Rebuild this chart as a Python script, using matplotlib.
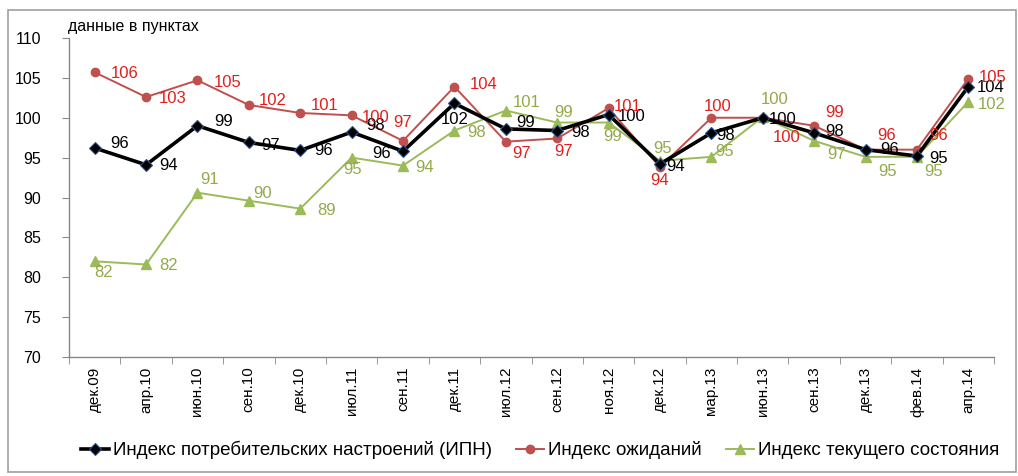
import matplotlib
matplotlib.use("Agg")
import matplotlib.pyplot as plt
from matplotlib.patches import Rectangle
import numpy as np

plt.rcParams['font.family'] = ['Liberation Sans', 'DejaVu Sans']

# ---- data ----
categories = ['дек.09', 'апр.10', 'июн.10', 'сен.10', 'дек.10', 'июл.11', 'сен.11',
              'дек.11', 'июл.12', 'сен.12', 'ноя.12', 'дек.12', 'мар.13', 'июн.13',
              'сен.13', 'дек.13', 'фев.14', 'апр.14']
ipn = [96.2, 94.1, 99.0, 96.9, 95.9, 98.2, 95.8, 101.8, 98.6, 98.4, 100.4, 94.2,
       98.1, 100.0, 98.1, 96.0, 95.2, 103.9]
expect = [105.7, 102.6, 104.7, 101.6, 100.6, 100.3, 97.1, 103.9, 97.0, 97.4, 101.2,
          93.8, 100.0, 100.0, 99.0, 96.0, 96.0, 104.9]
current = [82.0, 81.6, 90.6, 89.6, 88.6, 95.0, 94.0, 98.4, 100.9, 99.4, 99.4, 94.6,
           95.1, 100.1, 97.1, 95.1, 95.1, 102.0]
series_names = ['Индекс потребительских настроений (ИПН)', 'Индекс ожиданий',
                'Индекс текущего состояния']
yticks = [70, 75, 80, 85, 90, 95, 100, 105, 110]
unit_label = 'данные в пунктах'

# ---- label offsets (pixels: dx right, dy down) ----
off_ipn = [(25, -5), (22, 1), (26, -4), (22, 3), (23, 0), (24, -7), (-21, 2), (0, 16),
           (20, -6), (23, 2), (23, 2), (16, 2), (14, 3), (20, 2), (20, -1), (24, 0),
           (22, 2), (22, 1)]
off_exp = [(30, 1), (27, 1), (30, 2), (24, -4), (24, -7), (24, 2), (0, -18), (29, -2),
           (16, 12), (6, 13), (19, -2), (0, 13), (6, -11), (24, 20), (20, -13),
           (21, -14), (22, -14), (24, -1)]
off_cur = [(9, 11), (22, 1), (12, -13), (14, -7), (26, 2), (1, 12), (22, 2), (22, 2),
           (21, -8), (6, -10), (4, 14), (3, -12), (13, -5), (12, -17), (22, 14),
           (22, 15), (17, 15), (23, 3)]

W, H = 1018, 476
fig = plt.figure(figsize=(W / 100, H / 100), dpi=100)
ax = fig.add_axes([69 / W, 1 - 357 / H, (994 - 69) / W, (357 - 38) / H])

x = np.arange(len(categories))
c_black, c_red, c_green = '#000000', '#C0504D', '#9BBB59'

l1, = ax.plot(x, ipn, color=c_black, lw=2.6, marker='D', ms=6.5,
              mfc='#000000', mec='#2E4F8C', mew=0.8, zorder=5)
l2, = ax.plot(x, expect, color=c_red, lw=1.4, marker='o', ms=6,
              mfc=c_red, mec=c_red, zorder=4)
l3, = ax.plot(x, current, color=c_green, lw=1.4, marker='^', ms=7,
              mfc=c_green, mec=c_green, zorder=3)

k = 0.72
for vals, offs, col in [(ipn, off_ipn, '#000000'), (expect, off_exp, '#E0201E'),
                        (current, off_cur, '#94A94C')]:
    for xi, v, (dx, dy) in zip(x, vals, offs):
        ax.annotate(f'{v:.0f}', (xi, v), xytext=(dx * k, -dy * k),
                    textcoords='offset points', ha='center', va='center',
                    fontsize=12, color=col, zorder=6)

ax.set_xlim(-0.5, len(categories) - 0.5)
ax.set_ylim(70, 110)
ax.set_yticks(yticks)
ax.set_yticklabels([str(t) for t in yticks], fontsize=11.5)
ax.set_xticks(x)
ax.set_xticklabels(categories, rotation=90, fontsize=11)
ax.set_xticks(np.arange(-0.5, len(categories), 1), minor=True)
ax.tick_params(axis='x', which='major', length=0, pad=7)
ax.tick_params(axis='x', which='minor', length=5, color='#888888', direction='out')
ax.tick_params(axis='y', length=5, color='#888888', direction='out', pad=15)

for s in ['top', 'right']:
    ax.spines[s].set_visible(False)
for s in ['left', 'bottom']:
    ax.spines[s].set_color('#888888')
    ax.spines[s].set_linewidth(1.0)

fig.text(68 / W, 1 - 27 / H, unit_label, fontsize=11.5, ha='left', va='center')

fig.legend([l1, l2, l3], series_names, loc='center', ncol=3,
           bbox_to_anchor=(540 / W, 1 - 450 / H), frameon=False, fontsize=13.5,
           handlelength=1.5, columnspacing=1.3, handletextpad=0.2)

fig.patches.append(Rectangle((8 / W, 1 - 472 / H), (1016 - 8) / W, (472 - 10) / H,
                             transform=fig.transFigure, fill=False,
                             edgecolor='#A0A0A0', lw=1.2))

fig.savefig('out.png', dpi=100)
